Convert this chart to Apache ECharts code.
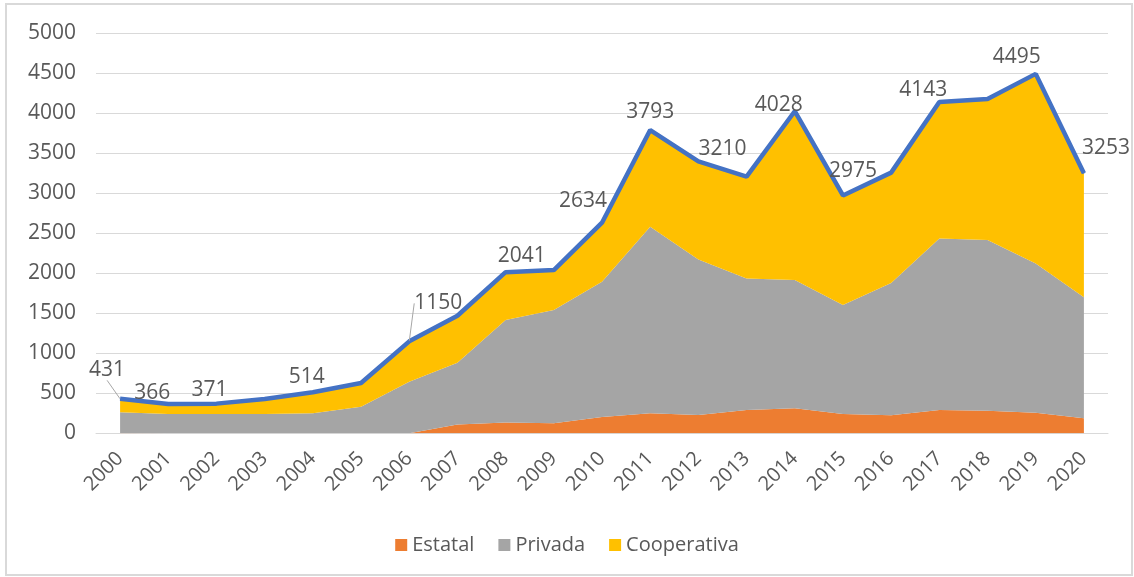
<!doctype html>
<html>
<head>
  <meta charset="UTF-8" />
  <title>Estatal / Privada / Cooperativa</title>
  <script src="https://cdn.jsdelivr.net/npm/echarts@6/dist/echarts.min.js"></script>
  <style>
    html, body { margin: 0; padding: 0; background: #fff; }
    #chart { width: 1134px; height: 577px; }
    #frame { position: absolute; left: 5px; top: 3px; width: 1124px; height: 569px;
             border: 2px solid #d9d9d9; pointer-events: none; }
  </style>
</head>
<body>
  <div id="chart"></div>
  <div id="frame"></div>
  <script>
    const years = ['2000', '2001', '2002', '2003', '2004', '2005', '2006', '2007', '2008', '2009', '2010',
      '2011', '2012', '2013', '2014', '2015', '2016', '2017', '2018', '2019', '2020'];
    const estatal = [5, 0, 0, 0, 0, 0, 0, 110, 135, 125, 205, 250, 230, 291, 312, 241, 225, 291, 283, 258, 187];
    const privada = [257, 241, 240, 241, 250, 333, 645, 773, 1281, 1416, 1690, 2333, 1945, 1646, 1604, 1363, 1655, 2146, 2133, 1867, 1513];
    const cooperativa = [169, 125, 131, 189, 264, 297, 505, 587, 599, 500, 739, 1210, 1225, 1273, 2112, 1371, 1380, 1706, 1764, 2370, 1553];
    const total = [431, 366, 371, 430, 514, 630, 1150, 1470, 2015, 2041, 2634, 3793, 3400, 3210, 4028, 2975, 3260, 4143, 4180, 4495, 3253];
    const labelledYears = ['2000', '2001', '2002', '2004', '2006', '2009', '2010', '2011', '2013', '2014', '2015', '2017', '2019', '2020'];
    const yTicks = { min: 0, max: 5000, interval: 500 };

    // where each total label sits relative to its point (px), like the hand-moved labels in the original
    const labelShift = {
      '2000': [-13, -29], '2001': [-16, -11], '2002': [-7, -14], '2004': [-6, -15],
      '2006': [29, -38], '2009': [-32, -14], '2010': [-19, -22], '2011': [0, -18],
      '2013': [-24, -28], '2014': [-16, -6], '2015': [10, -24], '2017': [-16, -12],
      '2019': [-19, -17], '2020': [22, -25]
    };
    const withLeader = ['2000', '2006'];

    const font = 'Open Sans';
    const textColor = '#595959';

    const chart = echarts.init(document.getElementById('chart'));

    const areaSeries = (name, values, color) => ({
      name, type: 'line', stack: 'total', data: values,
      symbol: 'none', lineStyle: { width: 0 },
      areaStyle: { color, opacity: 1 }, itemStyle: { color },
      emphasis: { disabled: true }, z: 2
    });

    const totalData = total.map((v, i) => {
      const show = labelledYears.indexOf(years[i]) >= 0;
      const item = { value: v, label: { show } };
      if (withLeader.indexOf(years[i]) >= 0) {
        item.labelLine = { show: true, lineStyle: { color: '#a6a6a6', width: 1 } };
      }
      return item;
    });

    chart.setOption({
      animation: false,
      textStyle: { fontFamily: font },
      grid: { left: 96, right: 26, top: 33.5, bottom: 143.7, containLabel: false },
      legend: {
        bottom: 17, left: 'center',
        data: ['Estatal', 'Privada', 'Cooperativa'],
        icon: 'rect', itemWidth: 12, itemHeight: 12, itemGap: 24,
        textStyle: { fontFamily: font, fontSize: 20, color: textColor }
      },
      xAxis: {
        type: 'category', data: years, boundaryGap: true,
        axisLine: { show: true, lineStyle: { color: '#d9d9d9', width: 1 } },
        axisTick: { show: false },
        axisLabel: { rotate: 45, fontSize: 20, color: textColor, margin: 22, interval: 0, fontFamily: font }
      },
      yAxis: {
        type: 'value', min: yTicks.min, max: yTicks.max, interval: yTicks.interval,
        axisLine: { show: false }, axisTick: { show: false },
        splitLine: { lineStyle: { color: '#d9d9d9', width: 1 } },
        axisLabel: { fontSize: 21, color: textColor, margin: 20, fontFamily: font, formatter: (v) => String(v) }
      },
      series: [
        areaSeries('Estatal', estatal, '#ED7D31'),
        areaSeries('Privada', privada, '#A5A5A5'),
        areaSeries('Cooperativa', cooperativa, '#FFC000'),
        {
          name: 'Total', type: 'line', data: totalData,
          symbol: 'circle', symbolSize: 1, showSymbol: true,
          itemStyle: { color: '#4472C4' },
          lineStyle: { color: '#4472C4', width: 4.5 },
          label: {
            show: false, position: 'inside', align: 'center', verticalAlign: 'middle',
            fontSize: 21, color: textColor, fontFamily: font
          },
          labelLine: { show: false },
          labelLayout: (p) => {
            const s = labelShift[years[p.dataIndex]];
            return s ? { dx: s[0], dy: s[1] } : {};
          },
          emphasis: { disabled: true }, z: 5
        }
      ]
    });
  </script>
</body>
</html>
